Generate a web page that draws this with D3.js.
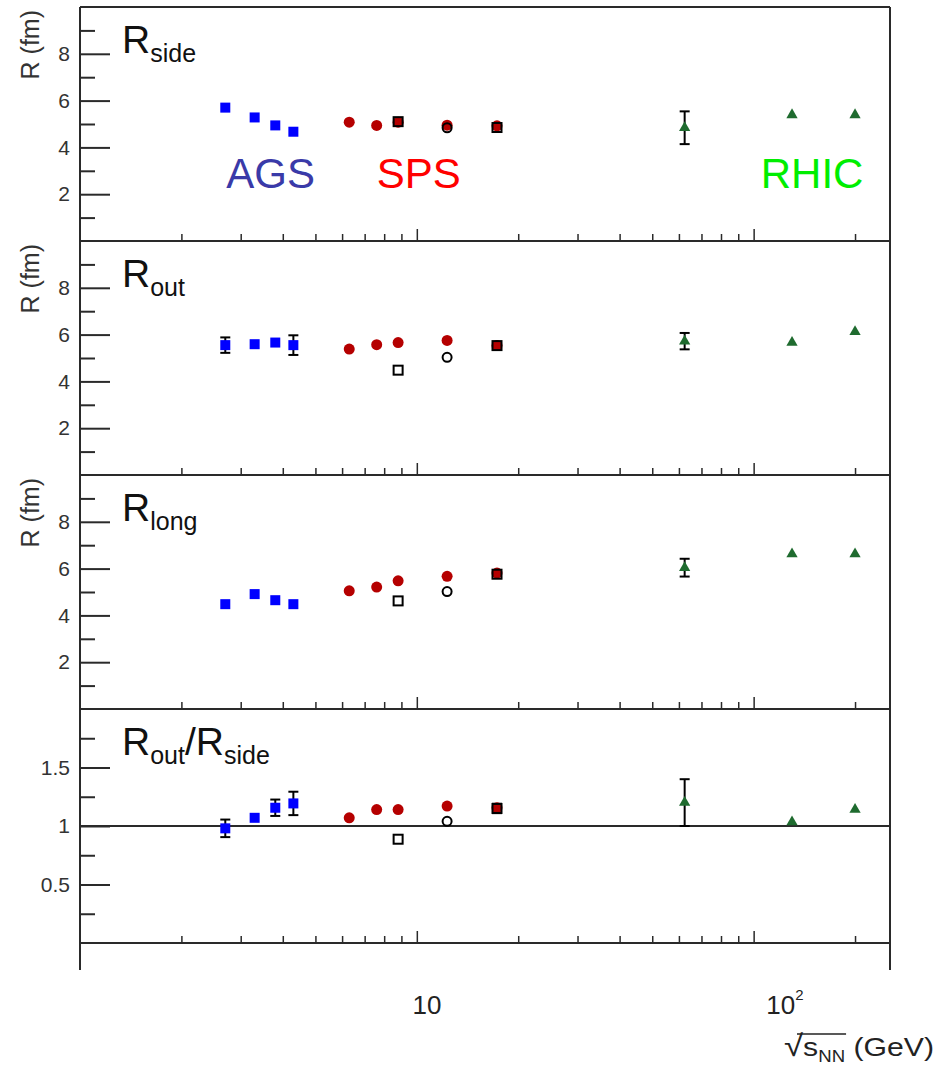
<!DOCTYPE html>
<html>
<head>
<meta charset="utf-8">
<script src="https://cdn.jsdelivr.net/npm/d3@7"></script>
<style>
  html, body { margin: 0; padding: 0; background: #fff; }
  svg { display: block; font-family: "Liberation Sans", Arial, Helvetica, sans-serif; }
</style>
</head>
<body>
<svg id="chart" width="936" height="1069"></svg>
<script>
// ---------------- DATA ----------------
const sqrtS_AGS   = [2.7, 3.3, 3.8, 4.3];
const sqrtS_SPS   = [6.3, 7.6, 8.8, 12.3, 17.3];
const sqrtS_CERES = [8.8, 12.3, 17.3];
const sqrtS_RHIC  = [62.4, 130, 200];
const CERES_shape = ["square", "circle", "square"];

const Rside_AGS   = [5.70, 5.28, 4.94, 4.67];
const Rside_AGS_err = [0, 0, 0, 0];
const Rside_SPS   = [5.08, 4.94, 5.08, 4.95, 4.92];
const Rside_CERES = [5.10, 4.84, 4.85];
const Rside_CERES_err = [0, 0, 0];
const Rside_RHIC  = [4.84, 5.39, 5.39];
const Rside_RHIC_err = [0.70, 0, 0];

const Rout_AGS    = [5.55, 5.59, 5.66, 5.55];
const Rout_AGS_err = [0.33, 0, 0, 0.42];
const Rout_SPS    = [5.38, 5.57, 5.66, 5.75, 5.53];
const Rout_CERES  = [4.48, 5.03, 5.53];
const Rout_CERES_err = [0, 0, 0];
const Rout_RHIC   = [5.72, 5.66, 6.12];
const Rout_RHIC_err = [0.35, 0, 0];

const Rlong_AGS   = [4.48, 4.91, 4.65, 4.48];
const Rlong_AGS_err = [0, 0, 0, 0];
const Rlong_SPS   = [5.05, 5.21, 5.48, 5.67, 5.81];
const Rlong_CERES = [4.62, 5.02, 5.76];
const Rlong_CERES_err = [0, 0, 0];
const Rlong_RHIC  = [6.04, 6.62, 6.62];
const Rlong_RHIC_err = [0.38, 0, 0];

const ratio_AGS   = [0.98, 1.07, 1.156, 1.193];
const ratio_AGS_err = [0.075, 0, 0.07, 0.10];
const ratio_SPS   = [1.07, 1.14, 1.14, 1.17, 1.156];
const ratio_CERES = [0.887, 1.04, 1.15];
const ratio_CERES_err = [0, 0, 0.04];
const ratio_RHIC  = [1.20, 1.034, 1.14];
const ratio_RHIC_err = [0.20, 0, 0];

const yTicksR = [2, 4, 6, 8];
const yMinorR = [1, 3, 5, 7, 9];
const yTicksRatio = [0.5, 1, 1.5];
const yMinorRatio = [0.25, 0.75, 1.25, 1.75];
const xMajorTicks = [10, 100];
const xMinorTicks = [2,3,4,5,6,7,8,9,20,30,40,50,60,70,80,90,200];
const xTickLabels = ["10", "10"];
const xTickSup = ["", "2"];

const panels = [
  {main: "R", sub: "side", sub2: null, yTitle: "R (fm)", domain: [0, 10], ticks: yTicksR, minor: yMinorR, fmt: d => d,
   ags: Rside_AGS, agsErr: Rside_AGS_err, sps: Rside_SPS, ceres: Rside_CERES, ceresErr: Rside_CERES_err, rhic: Rside_RHIC, rhicErr: Rside_RHIC_err, refLine: null, experiments: true},
  {main: "R", sub: "out", sub2: null, yTitle: "R (fm)", domain: [0, 10], ticks: yTicksR, minor: yMinorR, fmt: d => d,
   ags: Rout_AGS, agsErr: Rout_AGS_err, sps: Rout_SPS, ceres: Rout_CERES, ceresErr: Rout_CERES_err, rhic: Rout_RHIC, rhicErr: Rout_RHIC_err, refLine: null},
  {main: "R", sub: "long", sub2: null, yTitle: "R (fm)", domain: [0, 10], ticks: yTicksR, minor: yMinorR, fmt: d => d,
   ags: Rlong_AGS, agsErr: Rlong_AGS_err, sps: Rlong_SPS, ceres: Rlong_CERES, ceresErr: Rlong_CERES_err, rhic: Rlong_RHIC, rhicErr: Rlong_RHIC_err, refLine: null},
  {main: "R", sub: "out", sub2: "side", yTitle: null, domain: [0, 2], ticks: yTicksRatio, minor: yMinorRatio, fmt: d => d,
   ags: ratio_AGS, agsErr: ratio_AGS_err, sps: ratio_SPS, ceres: ratio_CERES, ceresErr: ratio_CERES_err, rhic: ratio_RHIC, rhicErr: ratio_RHIC_err, refLine: 1}
];

// ---------------- LAYOUT ----------------
const svg = d3.select("#chart");
const left = 80, right = 890, top0 = 7, panelH = 234;
const frameColor = "#2a2a2a";
const x = d3.scaleLog().domain([1, 254]).range([left, right]);
// label axis (bottom labels are drawn slightly stretched in the original)
const xLab = d3.scaleLog().domain([1, 254]).range([left - 11, left - 11 + 358 * Math.log10(254)]);

const colBlue = "#0000ff", colRed = "#b50000", colGreen = "#1f6b2f";

panels.forEach((p, i) => {
  const top = top0 + i * panelH, bottom = top + panelH;
  const y = d3.scaleLinear().domain(p.domain).range([bottom, top]);
  const g = svg.append("g");

  // y axis major ticks (inward)
  const ya = g.append("g").attr("transform", `translate(${left},0)`)
    .call(d3.axisLeft(y).tickValues(p.ticks).tickSize(-30).tickPadding(10).tickFormat(p.fmt));
  ya.select(".domain").remove();
  ya.selectAll(".tick line").attr("stroke", frameColor).attr("stroke-width", 2);
  ya.selectAll(".tick text").attr("font-size", 21).attr("fill", "#333")
    .attr("font-family", "Liberation Sans, Arial, sans-serif");
  const ym = g.append("g").attr("transform", `translate(${left},0)`)
    .call(d3.axisLeft(y).tickValues(p.minor).tickSize(-15).tickFormat(""));
  ym.select(".domain").remove();
  ym.selectAll(".tick line").attr("stroke", frameColor).attr("stroke-width", 2);

  // x ticks on panel bottom (pointing up)
  const xa = g.append("g").attr("transform", `translate(0,${bottom})`)
    .call(d3.axisBottom(x).tickValues(xMinorTicks).tickSize(-7).tickFormat(""));
  xa.select(".domain").remove();
  xa.selectAll(".tick line").attr("stroke", frameColor).attr("stroke-width", 1.5);
  const xA = g.append("g").attr("transform", `translate(0,${bottom})`)
    .call(d3.axisBottom(x).tickValues(xMajorTicks).tickSize(-12).tickFormat(""));
  xA.select(".domain").remove();
  xA.selectAll(".tick line").attr("stroke", frameColor).attr("stroke-width", 1.5);

  // panel separator line
  g.append("line").attr("x1", left).attr("x2", right).attr("y1", bottom).attr("y2", bottom)
    .attr("stroke", frameColor).attr("stroke-width", 2);

  // reference line
  if (p.refLine !== null) {
    g.append("line").attr("x1", left).attr("x2", right).attr("y1", y(p.refLine)).attr("y2", y(p.refLine))
      .attr("stroke", frameColor).attr("stroke-width", 2);
  }

  // y title
  if (p.yTitle) {
    g.append("text").attr("transform", `translate(39,${top + 3}) rotate(-90)`)
      .attr("text-anchor", "end").attr("font-size", 25).attr("fill", "#333").text(p.yTitle);
  }

  // panel label
  const lab = g.append("text").attr("x", 122).attr("y", top + 46).attr("font-size", 39).attr("fill", "#111");
  lab.append("tspan").text(p.main);
  lab.append("tspan").attr("font-size", 25).attr("dy", 9).text(p.sub);
  if (p.sub2) {
    lab.append("tspan").attr("dy", -9).text("/" + p.main);
    lab.append("tspan").attr("font-size", 25).attr("dy", 9).text(p.sub2);
  }

  // experiment labels
  if (p.experiments) {
    const ty = top + 181;
    g.append("text").attr("x", x(2.7) + 1).attr("y", ty).attr("font-size", 42).attr("fill", "#3a3aa8").text("AGS");
    g.append("text").attr("x", x(7.6)).attr("y", ty).attr("font-size", 42).attr("fill", "#ff0000").text("SPS");
    g.append("text").attr("x", x(105)).attr("y", ty).attr("font-size", 42).attr("fill", "#00ee00").text("RHIC");
  }

  // error bars
  function errBars(xs, vs, es) {
    xs.forEach((xv, k) => {
      const e = es[k];
      if (!e) return;
      const cx = x(xv), y1 = y(vs[k] - e), y2 = y(vs[k] + e);
      g.append("line").attr("x1", cx).attr("x2", cx).attr("y1", y1).attr("y2", y2)
        .attr("stroke", "#000").attr("stroke-width", 2);
      [y1, y2].forEach(yy => g.append("line").attr("x1", cx - 5).attr("x2", cx + 5)
        .attr("y1", yy).attr("y2", yy).attr("stroke", "#000").attr("stroke-width", 2));
    });
  }
  errBars(sqrtS_AGS, p.ags, p.agsErr);
  errBars(sqrtS_CERES, p.ceres, p.ceresErr);
  errBars(sqrtS_RHIC, p.rhic, p.rhicErr);

  // AGS squares
  g.selectAll(null).data(sqrtS_AGS.map((xv, k) => [xv, p.ags[k]])).enter().append("rect")
    .attr("x", d => x(d[0]) - 5).attr("y", d => y(d[1]) - 5).attr("width", 10).attr("height", 10)
    .attr("fill", colBlue);
  // SPS (NA49) red circles
  g.selectAll(null).data(sqrtS_SPS.map((xv, k) => [xv, p.sps[k]])).enter().append("circle")
    .attr("cx", d => x(d[0])).attr("cy", d => y(d[1])).attr("r", 5.5).attr("fill", colRed);
  // CERES open markers
  sqrtS_CERES.forEach((xv, k) => {
    const cx = x(xv), cy = y(p.ceres[k]);
    if (CERES_shape[k] === "square") {
      g.append("rect").attr("x", cx - 4.5).attr("y", cy - 4.5).attr("width", 9).attr("height", 9)
        .attr("fill", "none").attr("stroke", "#000").attr("stroke-width", 2);
    } else {
      g.append("circle").attr("cx", cx).attr("cy", cy).attr("r", 4.5)
        .attr("fill", "none").attr("stroke", "#000").attr("stroke-width", 2);
    }
  });
  // RHIC triangles
  const tri = d3.symbol().type(d3.symbolTriangle).size(55);
  g.selectAll(null).data(sqrtS_RHIC.map((xv, k) => [xv, p.rhic[k]])).enter().append("path")
    .attr("d", tri).attr("transform", d => `translate(${x(d[0])},${y(d[1])})`)
    .attr("fill", colGreen);
});

// outer frame
const bottomAll = top0 + 4 * panelH;
svg.append("line").attr("x1", left).attr("x2", right).attr("y1", top0).attr("y2", top0)
  .attr("stroke", frameColor).attr("stroke-width", 2);
svg.append("line").attr("x1", left).attr("x2", left).attr("y1", top0).attr("y2", bottomAll + 27)
  .attr("stroke", frameColor).attr("stroke-width", 2);
svg.append("line").attr("x1", right).attr("x2", right).attr("y1", top0).attr("y2", bottomAll + 27)
  .attr("stroke", frameColor).attr("stroke-width", 2);

// x tick labels
xMajorTicks.forEach((v, k) => {
  const t = svg.append("text").attr("x", xLab(v)).attr("y", 1014).attr("text-anchor", "middle")
    .attr("font-size", 26).attr("fill", "#222").attr("font-family", "Liberation Sans Narrow, Liberation Sans, Arial, sans-serif");
  t.append("tspan").text(xTickLabels[k]);
  if (xTickSup[k]) t.append("tspan").attr("font-size", 15).attr("dy", -14).text(xTickSup[k]);
});

// x title: sqrt(s_NN) (GeV)
const xt = svg.append("text").attr("x", 784).attr("y", 1056).attr("text-anchor", "start")
  .attr("font-size", 26).attr("fill", "#222").attr("font-family", "Liberation Sans, Arial, sans-serif")
  .attr("textLength", 150).attr("lengthAdjust", "spacingAndGlyphs");
xt.append("tspan").attr("font-size", 30).text("√");
xt.append("tspan").text("s");
xt.append("tspan").attr("font-size", 16).attr("dy", 6).text("NN");
xt.append("tspan").attr("dy", -6).text(" (GeV)");
const node = xt.node();
try {
  const s1 = node.getEndPositionOfChar(3).x;
  const r0 = node.getStartPositionOfChar(0).x;
  svg.append("line").attr("x1", r0 + 13).attr("x2", s1 + 1).attr("y1", 1034).attr("y2", 1034)
    .attr("stroke", "#222").attr("stroke-width", 1.5);
} catch (e) {}
</script>
</body>
</html>
